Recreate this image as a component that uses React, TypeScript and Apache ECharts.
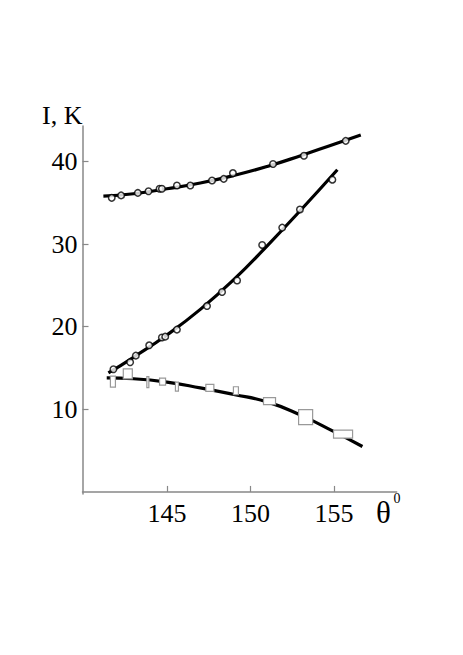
import React, { useEffect, useRef } from "react";
import * as echarts from "echarts";

// Upper series (circles)
const topX = [141.7, 142.26, 143.26, 143.9, 144.56, 144.7, 145.6, 146.4, 147.7, 148.4, 148.95, 151.35, 153.2, 155.7];
const topY = [35.6, 35.9, 36.2, 36.4, 36.7, 36.7, 37.1, 37.1, 37.7, 37.9, 38.6, 39.7, 40.7, 42.5];
const topCurveX = [141.2, 143, 145, 147, 149, 151, 153, 155, 156.6];
const topCurveY = [35.8, 36.1, 36.7, 37.4, 38.3, 39.4, 40.7, 42.1, 43.2];

// Middle series (circles)
const midX = [141.8, 142.8, 143.14, 143.94, 144.7, 144.9, 145.6, 147.4, 148.3, 149.2, 150.7, 151.9, 152.96, 154.9];
const midY = [14.85, 15.7, 16.5, 17.75, 18.7, 18.8, 19.65, 22.5, 24.2, 25.6, 29.9, 32.0, 34.2, 37.8];
const midCurveX = [141.5, 143, 145, 147, 149, 151, 153, 155.2];
const midCurveY = [14.4, 16.3, 19.0, 22.1, 25.7, 29.8, 34.1, 39.0];

// Lower series (boxes: value ± error)
const lowX = [141.77, 142.66, 143.86, 144.74, 145.6, 147.57, 149.13, 151.14, 153.3, 155.54];
const lowY = [13.35, 14.3, 13.3, 13.35, 12.75, 12.6, 12.25, 11.0, 9.05, 7.0];
const lowErrX = [0.3, 0.54, 0.12, 0.36, 0.18, 0.48, 0.3, 0.72, 0.84, 1.14];
const lowErrY = [1.33, 1.21, 1.33, 0.85, 1.09, 0.85, 0.97, 0.85, 1.81, 0.97];
const lowCurveX = [141.4, 143, 145, 147, 149, 151, 153, 155, 156.7];
const lowCurveY = [13.8, 13.7, 13.3, 12.6, 11.8, 10.9, 9.3, 7.3, 5.5];

const xTicks = [145, 150, 155];
const yTicks = [10, 20, 30, 40];

const FONT = "Liberation Serif";

const zip = (a: number[], b: number[]) => a.map((v, i) => [v, b[i]]);

export default function App() {
  const ref = useRef<HTMLDivElement>(null);
  useEffect(() => {
    if (!ref.current) return;
    const chart = echarts.init(ref.current, null, { renderer: "svg" });
    const curveStyle = { color: "#000", width: 3.2 };
    const circleItem = { color: "#fff", borderColor: "#000", borderWidth: 1.5 };
    chart.setOption({
      animation: false,
      backgroundColor: "#fff",
      grid: { left: 82.5, right: 66.3, top: 126, bottom: 161 },
      xAxis: {
        type: "value",
        min: 139.95,
        max: 158.75,
        splitLine: { show: false },
        axisLine: { show: true, lineStyle: { color: "#888", width: 1.5 } },
        axisTick: { show: true, inside: true, length: 6, customValues: xTicks, lineStyle: { color: "#888", width: 1.2 } },
        axisLabel: { customValues: xTicks, color: "#000", fontFamily: FONT, fontSize: 26, margin: 6 },
      },
      yAxis: {
        type: "value",
        min: -0.25,
        max: 44.3,
        splitLine: { show: false },
        axisLine: { show: true, lineStyle: { color: "#888", width: 1.5 } },
        axisTick: { show: true, inside: true, length: 6, customValues: yTicks, lineStyle: { color: "#888", width: 1.2 } },
        axisLabel: { customValues: yTicks, color: "#000", fontFamily: FONT, fontSize: 26, margin: 5 },
      },
      graphic: [
        { type: "text", x: 82.5, y: 115.5, style: { text: "I, K", fontSize: 26, fontFamily: FONT, fill: "#000", align: "right", verticalAlign: "middle" } },
        { type: "text", x: 376, y: 512, style: { text: "θ", fontSize: 31, fontFamily: FONT, fill: "#000", align: "left", verticalAlign: "middle" } },
        { type: "text", x: 393.5, y: 498.5, style: { text: "0", fontSize: 14, fontFamily: FONT, fill: "#000", align: "left", verticalAlign: "middle" } },
      ],
      series: [
        { type: "line", data: zip(topCurveX, topCurveY), smooth: true, showSymbol: false, lineStyle: curveStyle, z: 2 },
        { type: "line", data: zip(midCurveX, midCurveY), smooth: true, showSymbol: false, lineStyle: curveStyle, z: 2 },
        { type: "line", data: zip(lowCurveX, lowCurveY), smooth: true, showSymbol: false, lineStyle: curveStyle, z: 2 },
        { type: "scatter", data: zip(topX, topY), symbol: "circle", symbolSize: 6.5, itemStyle: circleItem, z: 3 },
        { type: "scatter", data: zip(midX, midY), symbol: "circle", symbolSize: 6.5, itemStyle: circleItem, z: 3 },
        {
          type: "custom",
          z: 3,
          data: lowX.map((x, i) => [x, lowY[i], lowErrX[i], lowErrY[i]]),
          renderItem: (params: any, api: any) => {
            const x = api.value(0), y = api.value(1), dx = api.value(2), dy = api.value(3);
            const p1 = api.coord([x - dx / 2, y + dy / 2]);
            const p2 = api.coord([x + dx / 2, y - dy / 2]);
            return {
              type: "rect",
              shape: { x: p1[0], y: p1[1], width: p2[0] - p1[0], height: p2[1] - p1[1] },
              style: { fill: "#fff", stroke: "#999", lineWidth: 1.2 },
            };
          },
        },
      ],
    });
    return () => chart.dispose();
  }, []);
  return <div ref={ref} style={{ position: "fixed", left: 0, top: 0, width: 463, height: 655, background: "#fff" }} />;
}
